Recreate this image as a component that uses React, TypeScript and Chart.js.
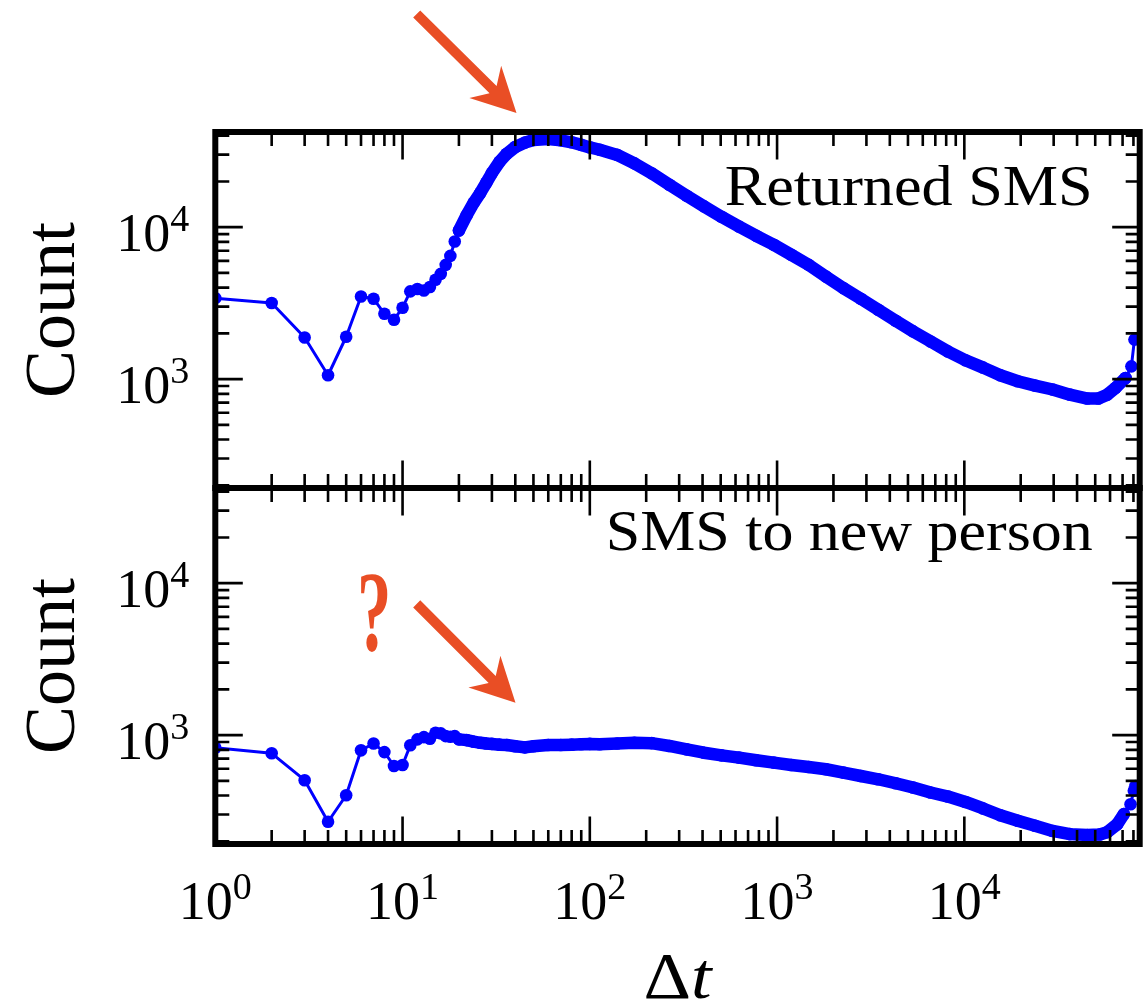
import React, { useEffect, useRef } from 'react';
import { Chart, registerables } from 'chart.js';

Chart.register(...registerables);

// ---------------- data ----------------
const X_RETURNED = [
  1, 2, 3, 4, 5, 6, 7, 8, 9, 10, 11, 12, 13, 14, 15, 16, 17, 18, 19, 20,
  22, 24, 26, 28, 30, 33, 36, 40, 45, 50, 60, 70, 80, 90, 100,
  113, 140, 173, 214, 266, 329, 407, 505, 626, 774, 960, 1190, 1475, 1824, 2260,
  2800, 3470, 4300, 5320, 6600, 8180, 10140, 12600, 15560, 19300,
  23870, 29600, 36600, 45400, 52000, 58000, 64200, 72600, 78000, 81000,
];
const Y_RETURNED = [
  3410, 3170, 1880, 1060, 1900, 3500, 3380, 2690, 2460, 2950,
  3780, 3920, 3830, 4040, 4510, 4930, 5650, 6470, 8040, 9500,
  12000, 14500, 16800, 19600, 22700, 27000, 30400, 33700, 36000, 37500,
  38000, 37300, 36200, 34800, 33500, 32300, 29900, 26300, 22600, 19000,
  16100, 13700, 11700, 10100, 8770, 7660, 6580, 5650, 4730, 3970,
  3380, 2860, 2420, 2060, 1770, 1520, 1330, 1190, 1060, 968,
  906, 854, 790, 745, 745, 790, 875, 1018, 1213, 1820,
];
const X_NEW = [
  1, 2, 3, 4, 5, 6, 7, 8, 9, 10, 11, 12, 13, 14, 15, 16, 17, 18, 19, 20,
  22, 24, 26, 28, 30, 33, 36, 40, 45, 50, 60, 70, 80, 90, 100,
  113, 140, 173, 214, 266, 329, 407, 505, 626, 774, 960, 1190, 1475, 1824, 2260,
  2800, 3470, 4300, 5320, 6600, 8180, 10140, 12600, 15560, 19300,
  23870, 29600, 36600, 45400, 53000, 58000, 65500, 71100, 77200, 80400, 82000,
];
const Y_NEW = [
  826, 759, 505, 269, 402, 794, 881, 773, 626, 636,
  858, 937, 970, 947, 1037, 1026, 985, 975, 985, 937,
  927, 905, 890, 880, 875, 865, 860, 845, 830, 845,
  860, 860, 865, 870, 875, 870, 880, 891, 885, 848,
  806, 766, 736, 711, 683, 659, 636, 617, 596, 566,
  538, 512, 482, 452, 419, 394, 363, 329, 297, 273,
  253, 234, 223, 220, 222, 230, 259, 302, 351, 430, 462,
];

const PANEL_LABELS = ['Returned SMS', 'SMS to new person'];
const Y_TITLE = 'Count';
const X_TITLE = ['\u0394', 't'];
const X_TICK_EXPONENTS = [0, 1, 2, 3, 4];
const Y_TICK_EXPONENTS = [3, 4];
const X_RANGE = [1, 86400];
const Y_RANGE = [192, 42300];

// annotation anchors, in data units of each panel
const TOP_ARROW = { from: [11.9, 253000], to: [40.6, 56500] };
const BOTTOM_ARROW = { from: [11.9, 7310], to: [40.1, 1632] };
const QUESTION_AT = [7.06, 6380];

// ---------------- styles / layout ----------------
const W = 1146;
const H = 1003;
const PLOT_LEFT = 215.3;
const PLOT_RIGHT = 1141;
const PANEL_GEOM = [
  { top: 132, bottom: 488, labelDrop: 73, labelWidth: 368 },
  { top: 488, bottom: 844, labelDrop: 62, labelWidth: 487 },
];
const BLUE = '#0000ff';
const ORANGE = '#e94e25';
const SERIF = '"Liberation Serif", "Times New Roman", serif';
const BAND_FROM = 20;
const BAND_TO = 75000;
const POINT_R = 6.3;
const THIN_W = 3;
const BAND_W = 12.5;

function logTicks(min: number, max: number) {
  const major: number[] = [];
  const minor: number[] = [];
  for (let e = Math.floor(Math.log10(min)); e <= Math.ceil(Math.log10(max)); e++) {
    for (let m = 1; m < 10; m++) {
      const v = m * Math.pow(10, e);
      if (v < min * 0.999 || v > max * 1.001) continue;
      (m === 1 ? major : minor).push(v);
    }
  }
  return { major, minor };
}

function drawPow(ctx: CanvasRenderingContext2D, exp: number, x: number, baseline: number, align: 'center' | 'right') {
  ctx.save();
  ctx.fillStyle = '#000';
  ctx.textAlign = 'left';
  ctx.textBaseline = 'alphabetic';
  ctx.font = `54px ${SERIF}`;
  const w1 = ctx.measureText('10').width;
  ctx.font = `38px ${SERIF}`;
  const sup = String(exp);
  const w2 = ctx.measureText(sup).width;
  const start = align === 'center' ? x - (w1 + w2) / 2 : x - (w1 + w2);
  ctx.font = `54px ${SERIF}`;
  ctx.fillText('10', start, baseline);
  ctx.font = `38px ${SERIF}`;
  ctx.fillText(sup, start + w1, baseline - 20);
  ctx.restore();
}

function drawArrow(ctx: CanvasRenderingContext2D, x0: number, y0: number, x1: number, y1: number) {
  const dx = x1 - x0;
  const dy = y1 - y0;
  const L = Math.hypot(dx, dy);
  const ux = dx / L, uy = dy / L, nx = -uy, ny = ux;
  const w = 5, hl = 44, hw = 22.6, notch = 11;
  const bx = x1 - ux * hl, by = y1 - uy * hl;
  const jx = x1 - ux * (hl - notch), jy = y1 - uy * (hl - notch);
  ctx.save();
  ctx.fillStyle = ORANGE;
  ctx.beginPath();
  ctx.moveTo(x0 + nx * w, y0 + ny * w);
  ctx.lineTo(jx + nx * w, jy + ny * w);
  ctx.lineTo(bx + nx * hw, by + ny * hw);
  ctx.lineTo(x1, y1);
  ctx.lineTo(bx - nx * hw, by - ny * hw);
  ctx.lineTo(jx - nx * w, jy - ny * w);
  ctx.lineTo(x0 - nx * w, y0 - ny * w);
  ctx.closePath();
  ctx.fill();
  ctx.restore();
}

function drawStretchedText(ctx: CanvasRenderingContext2D, text: string, font: string, right: number, baseline: number, targetWidth: number) {
  ctx.save();
  ctx.font = font;
  ctx.fillStyle = '#000';
  ctx.textAlign = 'left';
  ctx.textBaseline = 'alphabetic';
  const w = ctx.measureText(text).width;
  const sx = targetWidth / w;
  ctx.translate(right - targetWidth, baseline);
  ctx.scale(sx, 1);
  ctx.fillText(text, 0, 0);
  ctx.restore();
}

function panelPlugin(idx: number) {
  return {
    id: 'panelDecor' + idx,
    afterDraw(chart: any) {
      const ctx: CanvasRenderingContext2D = chart.ctx;
      const { left, right, top, bottom } = chart.chartArea;
      const xs = chart.scales.x;
      const ys = chart.scales.y;
      const g = PANEL_GEOM[idx];

      // ticks (inward, all four sides)
      const xt = logTicks(X_RANGE[0], X_RANGE[1]);
      const yt = logTicks(Y_RANGE[0], Y_RANGE[1]);
      ctx.save();
      ctx.strokeStyle = '#000';
      ctx.lineWidth = 2.6;
      ctx.lineCap = 'butt';
      ctx.beginPath();
      const addX = (v: number, len: number) => {
        const px = xs.getPixelForValue(v);
        ctx.moveTo(px, top); ctx.lineTo(px, top + len);
        ctx.moveTo(px, bottom); ctx.lineTo(px, bottom - len);
      };
      const addY = (v: number, len: number) => {
        const py = ys.getPixelForValue(v);
        ctx.moveTo(left, py); ctx.lineTo(left + len, py);
        ctx.moveTo(right, py); ctx.lineTo(right - len, py);
      };
      xt.major.forEach((v) => addX(v, 27.5));
      xt.minor.forEach((v) => addX(v, 14));
      yt.major.forEach((v) => addY(v, 27.5));
      yt.minor.forEach((v) => addY(v, 14));
      ctx.stroke();
      // frame
      ctx.lineWidth = 6;
      ctx.lineJoin = 'miter';
      ctx.strokeRect(left, top, right - left, bottom - top);
      ctx.restore();

      // y tick labels
      Y_TICK_EXPONENTS.forEach((e) => {
        const py = ys.getPixelForValue(Math.pow(10, e));
        drawPow(ctx, e, left - 26, py + 24, 'right');
      });

      // y title
      ctx.save();
      ctx.fillStyle = '#000';
      ctx.font = `72px ${SERIF}`;
      ctx.textAlign = 'center';
      ctx.textBaseline = 'alphabetic';
      ctx.translate(74, (top + bottom) / 2);
      ctx.rotate(-Math.PI / 2);
      ctx.fillText(Y_TITLE, 0, 0);
      ctx.restore();

      // panel label
      drawStretchedText(ctx, PANEL_LABELS[idx], `57px ${SERIF}`, right - 47, top + g.labelDrop, g.labelWidth);

      if (idx === 0) {
        drawArrow(
          ctx,
          xs.getPixelForValue(TOP_ARROW.from[0]), ys.getPixelForValue(TOP_ARROW.from[1]),
          xs.getPixelForValue(TOP_ARROW.to[0]), ys.getPixelForValue(TOP_ARROW.to[1]),
        );
      } else {
        drawArrow(
          ctx,
          xs.getPixelForValue(BOTTOM_ARROW.from[0]), ys.getPixelForValue(BOTTOM_ARROW.from[1]),
          xs.getPixelForValue(BOTTOM_ARROW.to[0]), ys.getPixelForValue(BOTTOM_ARROW.to[1]),
        );
        // question mark
        const qx = xs.getPixelForValue(QUESTION_AT[0]);
        const qy = ys.getPixelForValue(QUESTION_AT[1]);
        ctx.save();
        ctx.fillStyle = ORANGE;
        ctx.font = `bold 112px ${SERIF}`;
        ctx.textAlign = 'left';
        ctx.textBaseline = 'alphabetic';
        const m = ctx.measureText('?');
        const inkW = m.actualBoundingBoxRight + m.actualBoundingBoxLeft;
        const inkH = m.actualBoundingBoxAscent + m.actualBoundingBoxDescent;
        const sx = 27 / inkW;
        const sy = 78 / inkH;
        ctx.translate(qx, qy);
        ctx.scale(sx, sy);
        ctx.fillText('?', -(m.actualBoundingBoxRight - m.actualBoundingBoxLeft) / 2, (m.actualBoundingBoxAscent - m.actualBoundingBoxDescent) / 2);
        ctx.restore();

        // x tick labels
        X_TICK_EXPONENTS.forEach((e) => {
          const px = xs.getPixelForValue(Math.pow(10, e));
          drawPow(ctx, e, px, bottom + 75, 'center');
        });

        // x title: Δt
        ctx.save();
        ctx.fillStyle = '#000';
        ctx.textBaseline = 'alphabetic';
        ctx.textAlign = 'left';
        ctx.font = `66px ${SERIF}`;
        const wd = ctx.measureText(X_TITLE[0]).width;
        ctx.font = `italic 66px ${SERIF}`;
        const wt = ctx.measureText(X_TITLE[1]).width;
        const cx = (left + right) / 2;
        const sx2 = 1.12;
        const total = (wd + wt) * sx2;
        ctx.translate(cx - total / 2, bottom + 154);
        ctx.scale(sx2, 1);
        ctx.font = `66px ${SERIF}`;
        ctx.fillText(X_TITLE[0], 0, 0);
        ctx.font = `italic 66px ${SERIF}`;
        ctx.fillText(X_TITLE[1], wd, 0);
        ctx.restore();
      }
    },
  };
}

function makePanel(canvas: HTMLCanvasElement, idx: number) {
  const xsData = idx === 0 ? X_RETURNED : X_NEW;
  const ysData = idx === 0 ? Y_RETURNED : Y_NEW;
  const g = PANEL_GEOM[idx];
  return new Chart(canvas, {
    type: 'line',
    data: {
      datasets: [
        {
          data: xsData.map((x, i) => ({ x, y: ysData[i] })),
          borderColor: BLUE,
          backgroundColor: BLUE,
          pointBackgroundColor: BLUE,
          pointBorderWidth: 0,
          pointRadius: POINT_R,
          pointHoverRadius: POINT_R,
          borderWidth: THIN_W,
          borderJoinStyle: 'round',
          borderCapStyle: 'round',
          tension: 0,
          fill: false,
          clip: 0,
          segment: {
            borderWidth: (c: any) =>
              xsData[c.p0DataIndex] >= BAND_FROM && xsData[c.p1DataIndex] <= BAND_TO ? BAND_W : THIN_W,
          },
        } as any,
      ],
    },
    options: {
      responsive: false,
      maintainAspectRatio: false,
      animation: false,
      events: [],
      layout: {
        padding: { left: PLOT_LEFT, right: W - PLOT_RIGHT, top: g.top, bottom: H - g.bottom },
      },
      scales: {
        x: { type: 'logarithmic', min: X_RANGE[0], max: X_RANGE[1], display: false, bounds: 'data' },
        y: { type: 'logarithmic', min: Y_RANGE[0], max: Y_RANGE[1], display: false, bounds: 'data' },
      },
      plugins: { legend: { display: false }, tooltip: { enabled: false } },
    } as any,
    plugins: [panelPlugin(idx)],
  });
}

export default function App() {
  const topRef = useRef<HTMLCanvasElement>(null);
  const botRef = useRef<HTMLCanvasElement>(null);
  useEffect(() => {
    const charts = [makePanel(topRef.current!, 0), makePanel(botRef.current!, 1)];
    return () => charts.forEach((c) => c.destroy());
  }, []);
  return (
    <div style={{ position: 'absolute', left: 0, top: 0, width: W, height: H, background: '#fff', overflow: 'hidden' }}>
      <canvas ref={topRef} width={W} height={H} style={{ position: 'absolute', left: 0, top: 0 }} />
      <canvas ref={botRef} width={W} height={H} style={{ position: 'absolute', left: 0, top: 0 }} />
    </div>
  );
}
